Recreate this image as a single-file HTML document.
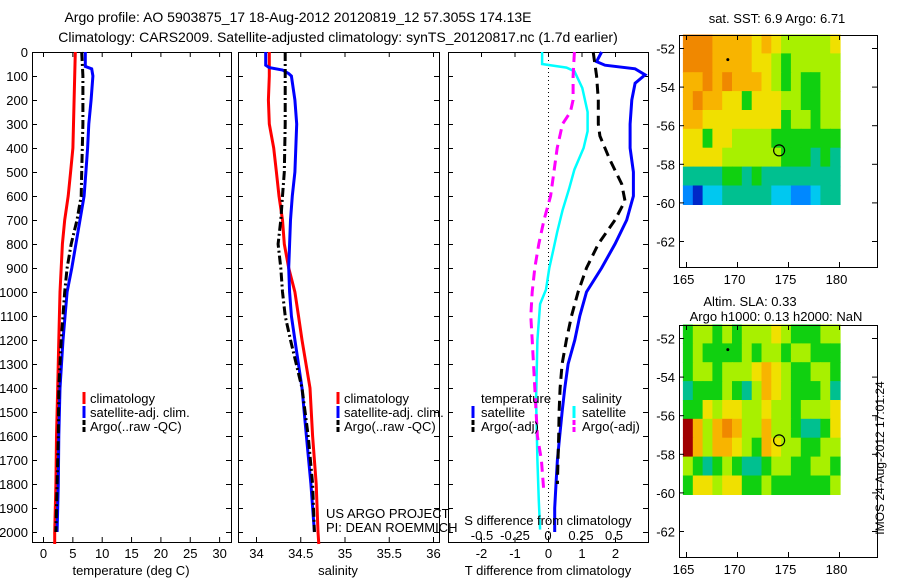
<!DOCTYPE html>
<html><head><meta charset="utf-8">
<style>
body{margin:0;background:#fff;}
svg{display:block;font-family:"Liberation Sans",sans-serif;}
text{font-size:13px;fill:#000;}
</style></head>
<body>
<svg id="fig" width="900" height="580" viewBox="0 0 900 580" xmlns="http://www.w3.org/2000/svg">
<text x="298" y="22" text-anchor="middle" style="font-size:14px">Argo profile: AO 5903875_17 18-Aug-2012 20120819_12 57.305S 174.13E</text>
<text x="338" y="42" text-anchor="middle" style="font-size:14px">Climatology: CARS2009. Satellite-adjusted climatology: synTS_20120817.nc (1.7d earlier)</text>
<g id="g"></g>
</svg>
<script>
// ---------- data ----------
const tempClimDepth=[0,100,200,300,400,500,600,700,800,900,1000,1200,1400,1600,1800,2000,2050];
const tempClim=[5.5,5.4,5.3,5.2,5.1,4.7,4.3,3.7,3.3,3.1,2.9,2.7,2.5,2.3,2.2,2.0,2.0];
const tempSatDepth=[0,60,70,100,200,300,400,500,600,700,800,900,1000,1200,1400,1600,1800,2000];
const tempSat=[7.2,7.2,8.3,8.5,8.2,7.8,7.6,7.3,7.0,6.3,5.6,4.9,4.1,3.4,2.9,2.7,2.6,2.4];
const tempArgoDepth=[0,100,300,500,600,700,800,900,1000,1200,1400,1600,1800,2000];
const tempArgo=[6.6,6.8,6.8,6.6,6.5,5.8,4.8,4.1,3.7,3.1,2.7,2.6,2.4,2.2];

const salClimDepth=[0,100,200,300,400,500,600,700,800,900,1000,1100,1200,1400,1600,1800,2000,2050];
const salClim=[34.15,34.15,34.14,34.15,34.2,34.23,34.26,34.3,34.32,34.37,34.44,34.48,34.52,34.61,34.64,34.68,34.7,34.71];
const salSatDepth=[0,55,65,75,90,100,200,300,500,600,700,800,900,1000,1100,1200,1400,1600,1800,2000];
const salSat=[34.11,34.11,34.15,34.3,34.37,34.4,34.44,34.46,34.44,34.41,34.39,34.38,34.37,34.38,34.4,34.44,34.52,34.57,34.62,34.66];
const salArgoDepth=[0,300,500,600,700,800,900,1000,1100,1200,1400,1600,1800,2000];
const salArgo=[34.33,34.33,34.32,34.3,34.28,34.25,34.28,34.3,34.33,34.39,34.52,34.59,34.64,34.66];

const dTSatDepth=[0,40,55,70,95,130,200,300,400,500,600,700,800,900,1000,1100,1200,1300,1400,1500,1600,1700,1800,1900,2000];
const dTSat=[1.6,1.45,1.7,2.6,2.9,2.6,2.5,2.45,2.45,2.55,2.55,2.35,2.0,1.6,1.15,0.95,0.8,0.6,0.5,0.42,0.35,0.28,0.24,0.2,0.2];
const dTArgoDepth=[0,50,100,200,300,350,450,550,620,700,800,900,1000,1100,1200,1300,1400,1500,1600,1700,1800];
const dTArgo=[1.35,1.4,1.45,1.5,1.5,1.55,1.85,2.2,2.3,2.0,1.5,1.15,0.9,0.7,0.55,0.42,0.36,0.33,0.32,0.3,0.28];
const dSSatDepth=[0,50,58,65,80,150,250,330,400,490,570,660,750,825,900,990,1050,1200,1450,1700,1870,1990];
const dSSat=[-0.045,-0.045,0.05,0.14,0.2,0.26,0.3,0.3,0.27,0.2,0.16,0.11,0.07,0.04,0.01,-0.015,-0.06,-0.08,-0.09,-0.08,-0.07,-0.06];
const dSArgoDepth=[0,100,200,250,300,400,500,600,700,800,900,1000,1100,1200,1400,1600,1700,1840];
const dSArgo=[0.2,0.19,0.19,0.17,0.11,0.07,0.045,0.02,-0.03,-0.07,-0.1,-0.12,-0.13,-0.12,-0.1,-0.08,-0.05,-0.03];

const depthTicks=[0,100,200,300,400,500,600,700,800,900,1000,1100,1200,1300,1400,1500,1600,1700,1800,1900,2000];
const tempTicks=[0,5,10,15,20,25,30];
const salTicks=[34,34.5,35,35.5,36];
const salTickLabels=["34","34.5","35","35.5","36"];
const dTTicks=[-2,-1,0,1,2];
const dSTicks=[-0.5,-0.25,0,0.25,0.5];
const dSTickLabels=["-0.5","-0.25","0","0.25","0.5"];
const latTicks=[-52,-54,-56,-58,-60,-62];
const lonTicks=[165,170,175,180];

// colour index grids (rows lat -51.3 → -60.1, cols lon 164.7 → 180.1)
const sstGrid=[
[9,9,9,8,8,8,8,7,8,7,6,6,6,6,6,7],
[9,9,9,8,8,8,8,7,7,6,5,6,6,6,6,6],
[8,8,9,8,9,8,8,8,7,6,5,6,5,5,6,6],
[8,9,8,8,7,7,5,7,7,7,6,6,5,5,6,6],
[8,8,7,7,7,7,7,7,7,7,5,6,6,5,6,6],
[7,7,5,7,7,6,6,6,6,5,5,5,5,5,5,5],
[7,7,7,7,6,6,6,6,6,6,5,5,5,4,5,4],
[4,4,4,4,5,5,4,5,4,4,4,4,4,4,4,4],
[2,1,3,3,4,4,4,4,4,3,3,2,2,3,4,4]];
const slaGrid=[
[5,6,6,5,6,5,6,6,6,7,6,5,5,5,6,6],
[5,6,5,5,5,5,6,5,6,6,5,6,6,5,5,5],
[5,6,6,5,6,6,6,7,8,7,6,5,5,6,6,5],
[4,5,5,5,6,5,4,6,8,7,6,5,5,5,6,4],
[5,5,7,6,7,7,6,6,7,6,6,5,6,6,6,7],
[10,8,6,8,9,8,6,6,8,6,6,5,4,4,5,7],
[10,8,6,8,8,7,6,5,8,7,6,6,5,5,6,6],
[6,5,4,5,6,5,4,4,5,6,6,5,5,6,6,5],
[5,7,7,6,7,7,5,5,6,5,5,5,5,5,5,6]];
const cmap=["#00008f","#0028c8","#0088ff","#00c8f0","#00c090","#10d010","#a8f000","#f0e000","#f8b400","#f08800","#a00000"];
const argoLon=174.13, argoLat=-57.305;

// ---------- helpers ----------
const NS="http://www.w3.org/2000/svg";
const G=document.getElementById('g');
function el(tag,attrs,parent){const e=document.createElementNS(NS,tag);for(const k in attrs)e.setAttribute(k,attrs[k]);(parent||G).appendChild(e);return e;}
function txt(x,y,s,anchor,parent){const t=el('text',{x:x,y:y,'text-anchor':anchor||'start'},parent);t.textContent=s;return t;}

const yD=d=>52+d*0.24;
const TOP=52,BOT=542;
const xT=t=>43+t*5.87;
const xS=s=>256+(s-34)*88.5;
const xdT=t=>548+t*33.5;
const xdS=s=>548+s*132;

function line(depths,vals,xf,color,w,dash,name){
  const pts=depths.map((d,i)=>xf(vals[i]).toFixed(1)+','+yD(d).toFixed(1)).join(' ');
  const p=el('polyline',{points:pts,fill:'none',stroke:color,'stroke-width':w});
  if(dash)p.setAttribute('stroke-dasharray',dash);
  
  
}
function panel(x0,x1,name){
  const r=el('rect',{x:x0+0.5,y:TOP+0.5,width:x1-x0,height:BOT-TOP,fill:'none',stroke:'#000','stroke-width':1});
  
  
  depthTicks.forEach(d=>{
    el('line',{x1:x0,x2:x0+5,y1:yD(d)+0.5,y2:yD(d)+0.5,stroke:'#000'});
    el('line',{x1:x1-5,x2:x1,y1:yD(d)+0.5,y2:yD(d)+0.5,stroke:'#000'});
  });
}
function xticks(ticks,labels,xf,name){
  ticks.forEach((t,i)=>{
    const x=xf(t)+0.5;
    el('line',{x1:x,x2:x,y1:TOP,y2:TOP+5,stroke:'#000'});
    el('line',{x1:x,x2:x,y1:BOT-5,y2:BOT,stroke:'#000'});
    const l=txt(x,558,labels[i],'middle');
    
    
  });
}
function legendBar(x,y,color,dash){
  el('line',{x1:x,x2:x,y1:y-6,y2:y+6,stroke:color,'stroke-width':3,'stroke-dasharray':dash||'none'});
}

// ---------- panel 1: temperature ----------
panel(32,231,'temperature-panel');
depthTicks.forEach(d=>{const l=txt(28,yD(d)+5,String(d),'end');

});
xticks(tempTicks,tempTicks.map(String),xT,'temperature');
line(tempClimDepth,tempClim,xT,'#ff0000',3,null,'temperature-climatology-line');
line(tempSatDepth,tempSat,xT,'#0000ff',3,null,'temperature-satellite-line');
line(tempArgoDepth,tempArgo,xT,'#000',3,'9,3,2,3','temperature-argo-line');
[['#ff0000','climatology',null],['#0000ff','satellite-adj. clim.',null],['#000','Argo(..raw -QC)','5,2']].forEach((e,i)=>{
  legendBar(84,398+i*14,e[0],e[2]);
  const t=txt(90,403+i*14,e[1]);
  
  
});
txt(131,575,'temperature (deg C)','middle');

// ---------- panel 2: salinity ----------
panel(238,439,'salinity-panel');
xticks(salTicks,salTickLabels,xS,'salinity');
line(salClimDepth,salClim,xS,'#ff0000',3,null,'salinity-climatology-line');
line(salSatDepth,salSat,xS,'#0000ff',3,null,'salinity-satellite-line');
line(salArgoDepth,salArgo,xS,'#000',3,'9,3,2,3','salinity-argo-line');
[['#ff0000','climatology',null],['#0000ff','satellite-adj. clim.',null],['#000','Argo(..raw -QC)','5,2']].forEach((e,i)=>{
  legendBar(338,398+i*14,e[0],e[2]);
  const t=txt(344,403+i*14,e[1]);
  
  
});
txt(326,518,'US ARGO PROJECT');
txt(326,532,'PI: DEAN ROEMMICH');
txt(338,575,'salinity','middle');

// ---------- panel 3: differences ----------
panel(448,648,'difference-panel');
xticks(dTTicks,dTTicks.map(String),xdT,'t-difference');
el('line',{x1:548.5,x2:548.5,y1:TOP,y2:BOT,stroke:'#000','stroke-dasharray':'1,3'});
line(dSSatDepth,dSSat,xdS,'#00ffff',2.5,null,'salinity-diff-satellite-line');
line(dSArgoDepth,dSArgo,xdS,'#ff00ff',3,'10,6','salinity-diff-argo-line');
line(dTSatDepth,dTSat,xdT,'#0000ff',3,null,'temperature-diff-satellite-line');
line(dTArgoDepth,dTArgo,xdT,'#000',3,'10,6','temperature-diff-argo-line');
txt(481,403,'temperature');
legendBar(473,412,'#0000ff');txt(481,417,'satellite');
legendBar(473,426,'#000','5,2');txt(481,431,'Argo(-adj)');
txt(582,403,'salinity');
legendBar(574,412,'#00ffff');txt(582,417,'satellite');
legendBar(574,426,'#ff00ff','5,2');txt(582,431,'Argo(-adj)');
txt(548,525,'S difference from climatology','middle');
dSTicks.forEach((s,i)=>{const t=txt(xdS(s),540,dSTickLabels[i],'middle');

});
txt(548,575,'T difference from climatology','middle');

// ---------- maps ----------
const mX=lon=>686+(lon-165)*10.2;
function map(oy,grid,name){
  const yL=lat=>oy+48+(-52-lat)*19.3;
  const g=el('g',{});
  
  
  const lon0=164.7,lon1=180.1,lat0=-51.3,lat1=-60.1;
  const nr=grid.length,nc=grid[0].length;
  const cw=(lon1-lon0)/nc,ch=(lat0-lat1)/nr;
  grid.forEach((row,r)=>row.forEach((v,c)=>{
    const x=mX(lon0+c*cw),y=yL(lat0-r*ch);
    el('rect',{x:x.toFixed(1),y:y.toFixed(1),width:(cw*10.2+0.6).toFixed(1),height:(ch*19.3+0.6).toFixed(1),fill:cmap[v]},g);
  }));
  el('rect',{x:679.5,y:oy+35.5,width:198,height:232,fill:'none',stroke:'#000'},g);
  latTicks.forEach(l=>{const y=yL(l)+0.5;
    el('line',{x1:679,x2:684,y1:y,y2:y,stroke:'#000'},g);
    el('line',{x1:872,x2:877,y1:y,y2:y,stroke:'#000'},g);
    txt(675,y+5,String(l),'end',g);});
  lonTicks.forEach(l=>{const x=mX(l)+0.5;
    el('line',{x1:x,x2:x,y1:oy+35,y2:oy+40,stroke:'#000'},g);
    el('line',{x1:x,x2:x,y1:oy+262,y2:oy+267,stroke:'#000'},g);
    txt(x-3,oy+284,String(l),'middle',g);});
  el('circle',{cx:mX(argoLon),cy:yL(argoLat),r:5.5,fill:'none',stroke:'#000','stroke-width':1.2},g);
  el('circle',{cx:mX(169.1),cy:yL(-52.6),r:1.5,fill:'#000'},g);
}
map(0,sstGrid,'sst-map');
map(290,slaGrid,'sla-map');
txt(777,23,'sat. SST: 6.9 Argo: 6.71','middle');
txt(750,306,'Altim. SLA: 0.33','middle');
txt(776,321,'Argo h1000: 0.13 h2000: NaN','middle');
const st=txt(0,0,'IMOS 24-Aug-2012 17:01:24','middle');
st.setAttribute('transform','translate(884,458) rotate(-90)');
st.setAttribute('style','font-size:12px');


</script>
</body></html>
